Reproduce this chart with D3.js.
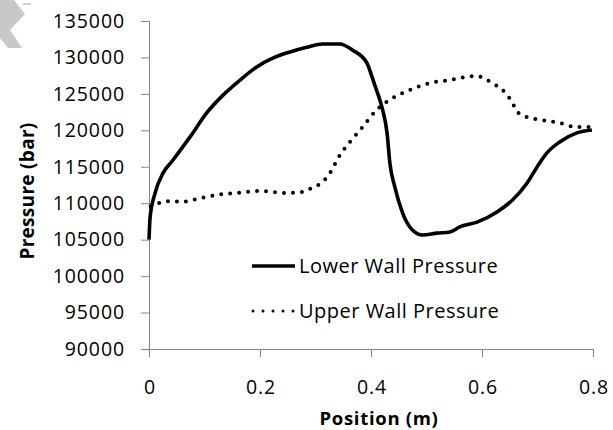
<!DOCTYPE html>
<html><head><meta charset="utf-8">
<script src="https://cdn.jsdelivr.net/npm/d3@7"></script>
<style>body{margin:0;background:#fff}svg{display:block}text{font-family:"Open Sans",sans-serif;fill:#000}</style>
</head><body><svg id="c" width="613" height="430"></svg>
<script>
const xTicks = [0, 0.2, 0.4, 0.6, 0.8];
const yTicks = [90000, 95000, 100000, 105000, 110000, 115000, 120000, 125000, 130000, 135000];
const seriesNames = ["Lower Wall Pressure", "Upper Wall Pressure"];
const lowerX = [0, 0.002, 0.011, 0.025, 0.043, 0.074, 0.104, 0.133, 0.164, 0.194, 0.223, 0.254, 0.284, 0.313, 0.344, 0.367, 0.393, 0.402, 0.41, 0.416, 0.421, 0.429, 0.434, 0.443, 0.457, 0.475, 0.493, 0.519, 0.542, 0.56, 0.591, 0.627, 0.655, 0.681, 0.699, 0.717, 0.74, 0.771, 0.798];
const lowerY = [105000, 108100, 111400, 114100, 115900, 119100, 122400, 124800, 126900, 128700, 129900, 130750, 131400, 131850, 131850, 131000, 129200, 127300, 125500, 124150, 122800, 119600, 115500, 112200, 108650, 106300, 105650, 105900, 106050, 106750, 107400, 108800, 110450, 112750, 114950, 116900, 118400, 119650, 120050];
const upperX = [0.003, 0.02, 0.041, 0.059, 0.092, 0.133, 0.158, 0.2, 0.223, 0.248, 0.277, 0.293, 0.311, 0.326, 0.344, 0.362, 0.385, 0.41, 0.434, 0.466, 0.506, 0.542, 0.569, 0.592, 0.609, 0.627, 0.641, 0.654, 0.664, 0.682, 0.709, 0.74, 0.771, 0.794];
const upperY = [109600, 110050, 110300, 110200, 110700, 111250, 111400, 111700, 111550, 111400, 111550, 112100, 112800, 114150, 116600, 118400, 120450, 122800, 124200, 125400, 126500, 126900, 127300, 127450, 126900, 126100, 125250, 123900, 122500, 121800, 121400, 121000, 120450, 120450];

const svg = d3.select("#c");
const x = d3.scaleLinear().domain([0, 0.8]).range([149, 593]);
const y = d3.scaleLinear().domain([90000, 135000]).range([349, 21]);
const axisColor = "#868686";

// watermark fragment top-left
svg.append("path").attr("d","M0,0 L14,0 L25,14 L10,30 L22,48 L8,48 L0,38 Z").attr("fill","#c8c8c8");
svg.append("path").attr("d","M23,3 L31,3 L31,5 L23,5 Z").attr("fill","#d0d0d0");

const yAxis = svg.append("g").attr("transform","translate(149,0)")
  .call(d3.axisLeft(y).tickValues(yTicks).tickSize(8).tickPadding(17).tickFormat(d3.format("d")));
const xAxis = svg.append("g").attr("transform","translate(0,349)")
  .call(d3.axisBottom(x).tickValues(xTicks).tickSize(8).tickPadding(23).tickFormat(d => d === 0 ? "0" : d3.format(".1f")(d)));
[yAxis, xAxis].forEach(g => {
  g.selectAll("path.domain").attr("stroke", axisColor).attr("stroke-width",1);
  g.selectAll(".tick line").attr("stroke", axisColor);
  g.selectAll("text").attr("font-family","Open Sans").attr("font-size",19.5).attr("letter-spacing",0.9).attr("fill","#000");
});
yAxis.selectAll("text").attr("dx", 1);
xAxis.selectAll("text").attr("dx", 0.5);

const line = d3.line().x(d => x(d[0])).y(d => y(d[1])).curve(d3.curveMonotoneX);
const lowerData = lowerX.map((v,i) => [v, lowerY[i]]);
const upperData = upperX.map((v,i) => [v, upperY[i]]);
svg.append("path").datum(upperData).attr("d", line).attr("fill","none").attr("stroke","#000")
  .attr("stroke-width",4).attr("stroke-linecap","round").attr("stroke-dasharray","0 9");
svg.append("path").datum(lowerData).attr("d", line).attr("fill","none").attr("stroke","#000")
  .attr("stroke-width",3.6).attr("stroke-linejoin","round");

// legend
const leg = svg.append("g");
const legY = [266, 311];
leg.append("line").attr("x1",252).attr("x2",295).attr("y1",legY[0]).attr("y2",legY[0]).attr("stroke","#000").attr("stroke-width",3.5);
leg.append("line").attr("x1",253).attr("x2",295).attr("y1",legY[1]).attr("y2",legY[1]).attr("stroke","#000")
  .attr("stroke-width",3).attr("stroke-linecap","round").attr("stroke-dasharray","0 10");
seriesNames.forEach((n,i) => leg.append("text").attr("x",299).attr("y",legY[i]).attr("dy","0.35em")
  .attr("font-size",20).attr("letter-spacing",0.5).text(n));

svg.append("text").attr("x",379).attr("y",425).attr("text-anchor","middle").attr("font-weight","bold").attr("font-size",18.5).attr("letter-spacing",0.7).text("Position (m)");
svg.append("text").attr("transform","translate(34,191) rotate(-90)").attr("text-anchor","middle").attr("font-weight","bold").attr("font-size",19).attr("letter-spacing",0.3).text("Pressure (bar)");
</script></body></html>
